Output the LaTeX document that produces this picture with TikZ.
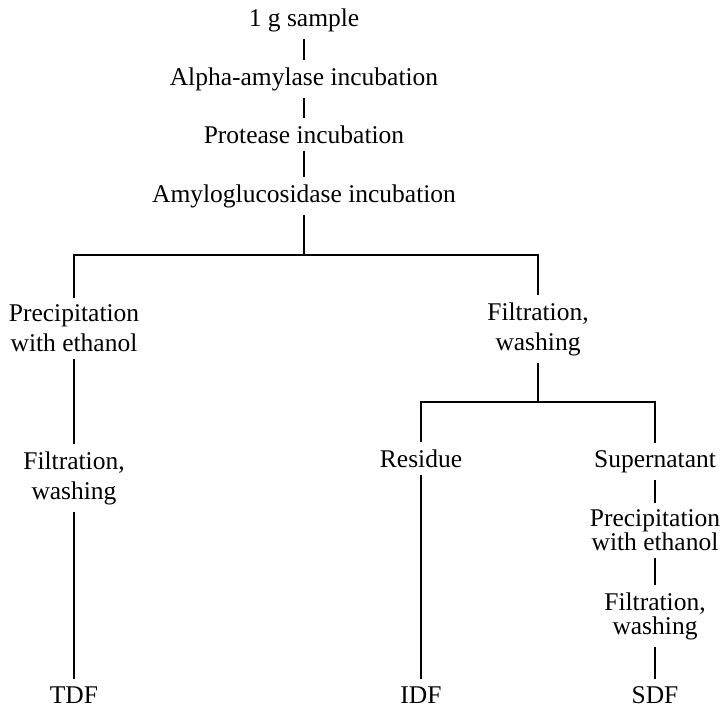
\documentclass[tikz,border=0pt]{standalone}
\usepackage{fontspec}
\setmainfont{Liberation Serif}
\begin{document}
\begin{tikzpicture}[x=0.5pt,y=-0.5pt,
  lbl/.style={inner xsep=0pt,inner ysep=3.5pt,align=center,font=\fontsize{12.75}{12}\selectfont},
  loose/.style={lbl,font=\fontsize{12.75}{15}\selectfont},
  conn/.style={line width=0.9pt}]
\useasboundingbox (0,0) rectangle (721,709);
% top column
\node[lbl,anchor=base] (s)    at (304,26)  {1 g sample};
\node[lbl,anchor=base] (alpha) at (304,85) {Alpha-amylase incubation};
\node[lbl,anchor=base] (prot) at (304,143) {Protease incubation};
\node[lbl,anchor=base] (amyl) at (304,202) {Amyloglucosidase incubation};
% left branch
\node[loose] (prec1) at (74,328.5) {Precipitation\\with ethanol};
\node[loose] (filt1) at (74,478) {Filtration,\\washing};
\node[lbl,anchor=base] (tdf) at (74,703) {TDF};
% right branch
\node[loose] (filt2) at (538,329) {Filtration,\\washing};
\node[lbl,anchor=base] (res) at (421,467) {Residue};
\node[lbl,anchor=base] (idf) at (421,703) {IDF};
\node[lbl,anchor=base] (sup) at (655,467) {Supernatant};
\node[lbl] (prec3) at (655,530.5) {Precipitation\\with ethanol};
\node[lbl] (filt3) at (655,616) {Filtration,\\washing};
\node[lbl,anchor=base] (sdf) at (655,703) {SDF};
% junctions
\coordinate (j1) at (304,255);
\coordinate (j2) at (538,402);
% connectors
\draw[conn] (s) -- (alpha);
\draw[conn] (alpha) -- (prot);
\draw[conn] (prot) -- (amyl);
\draw[conn] (amyl) -- (j1);
\draw[conn] (prec1.north) -- (prec1.north |- j1) -- (filt2.north |- j1) -- (filt2.north);
\draw[conn] (prec1) -- (filt1);
\draw[conn] (filt1) -- (tdf);
\draw[conn] (filt2) -- (j2);
\draw[conn] (res.north) -- (res.north |- j2) -- (sup.north |- j2) -- (sup.north);
\draw[conn] (res) -- (idf);
\draw[conn] (sup) -- (prec3);
\draw[conn] (prec3) -- (filt3);
\draw[conn] (filt3) -- (sdf);
\end{tikzpicture}
\end{document}
